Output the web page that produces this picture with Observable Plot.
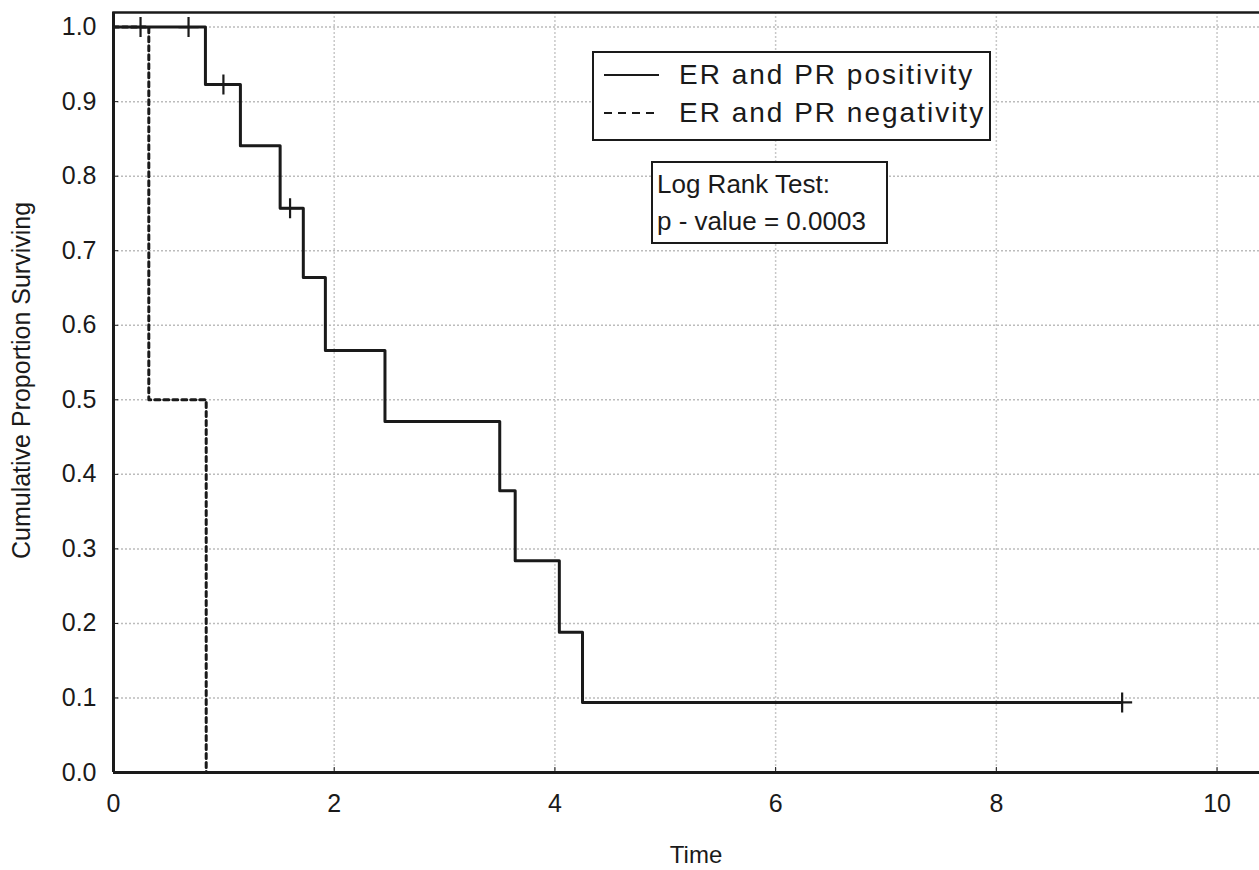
<!DOCTYPE html>
<html>
<head>
<meta charset="utf-8">
<script src="https://cdn.jsdelivr.net/npm/d3@7"></script>
<script src="https://cdn.jsdelivr.net/npm/@observablehq/plot@0.6"></script>
<style>
  html, body { margin: 0; padding: 0; background: #fff; }
  #wrap { position: relative; width: 1259px; height: 870px; overflow: hidden; font-family: "Liberation Sans", Arial, sans-serif; color: #1a1a1a; }
  #legend { position: absolute; left: 592px; top: 51px; width: 395px; height: 86px; border: 2px solid #1a1a1a; background: #fff; }
  .lrow { position: absolute; left: 10px; height: 34px; display: flex; align-items: center; font-size: 28px; letter-spacing: 2px; white-space: nowrap; }
  .lrow svg { margin-right: 20px; }
  #test { position: absolute; left: 651px; top: 161px; width: 229px; height: 79px; border: 2px solid #1a1a1a; background: #fff; font-size: 26px; line-height: 37px; padding-left: 4px; box-sizing: content-box; white-space: nowrap; }
  #test div:first-child { margin-top: 3px; }
</style>
</head>
<body>
<div id="wrap">
  <div id="chart"></div>
  <div id="legend"></div>
  <div id="test"></div>
</div>
<script>
// ---- data ----
const posTimes = [0, 0.833, 1.15, 1.51, 1.72, 1.92, 2.46, 3.50, 3.64, 4.04, 4.25, 9.12];
const posSurv  = [1.0, 0.923, 0.841, 0.757, 0.664, 0.566, 0.471, 0.378, 0.284, 0.188, 0.094, 0.094];
const negTimes = [0, 0.32, 0.84];
const negSurv  = [1.0, 0.5, 0.0];
const censorTimes = [0.245, 0.68, 0.996, 1.60, 9.14];
const censorSurv  = [1.0, 1.0, 0.923, 0.757, 0.094];
const xTicks = [0, 2, 4, 6, 8, 10];
const yTicks = [0, 0.1, 0.2, 0.3, 0.4, 0.5, 0.6, 0.7, 0.8, 0.9, 1.0];
const seriesNames = ["ER and PR positivity", "ER and PR negativity"];
const testLines = ["Log Rank Test:", "p - value = 0.0003"];
const xLabel = "Time";
const yLabel = "Cumulative Proportion Surviving";

const pos = posTimes.map((t, i) => ({t, s: posSurv[i]}));
const neg = negTimes.map((t, i) => ({t, s: negSurv[i]}));
const cens = censorTimes.map((t, i) => ({t, s: censorSurv[i]}));

const ink = "#1a1a1a";
const chart = Plot.plot({
  width: 1259,
  height: 870,
  marginLeft: 113,
  marginRight: -5,
  marginTop: 12,
  marginBottom: 98,
  style: {fontFamily: "'Liberation Sans', Arial, sans-serif", color: ink, background: "#fff"},
  x: {domain: [0, 10.43]},
  y: {domain: [0, 1.0196]},
  marks: [
    Plot.gridY(yTicks, {stroke: "#bcbcbc", strokeOpacity: 1, strokeWidth: 1.5, strokeDasharray: "2 2"}),
    Plot.gridX(xTicks, {stroke: "#c8c8c8", strokeOpacity: 1, strokeWidth: 1.5, strokeDasharray: "2 2"}),
    Plot.axisY(yTicks, {tickSize: -5, tickPadding: 22, tickFormat: d3.format(".1f"), fontSize: 25, label: null, stroke: ink}),
    Plot.axisX(xTicks, {tickSize: -5, tickPadding: 27, tickFormat: d3.format("d"), fontSize: 25, label: null, stroke: ink}),
    Plot.frame({anchor: "top", stroke: ink, strokeWidth: 2.5}),
    Plot.ruleY([0], {stroke: ink, strokeWidth: 3}),
    Plot.ruleX([0], {stroke: ink, strokeWidth: 3}),
    Plot.line(neg, {x: "t", y: "s", curve: "step-after", stroke: ink, strokeWidth: 3, strokeDasharray: "5 4"}),
    Plot.line(pos, {x: "t", y: "s", curve: "step-after", stroke: ink, strokeWidth: 3}),
    Plot.dot(cens, {x: "t", y: "s", symbol: "plus", r: 6.5, stroke: ink, strokeWidth: 2.2}),
    Plot.text([xLabel], {frameAnchor: "bottom", dx: 7, dy: 90, fontSize: 24, fill: ink}),
    Plot.text([yLabel], {frameAnchor: "left", textAnchor: "middle", rotate: -90, dx: -92, dy: -12, fontSize: 25, fill: ink})
  ]
});
document.getElementById("chart").appendChild(chart);

// legend (inside the plot area, as in the reference)
const legend = document.getElementById("legend");
seriesNames.forEach((name, i) => {
  const row = document.createElement("div");
  row.className = "lrow";
  row.style.top = (i === 0 ? 5 : 43) + "px";
  const dash = i === 0 ? "" : ' stroke-dasharray="8 6"';
  row.innerHTML = `<svg width="55" height="10"><line x1="0" y1="5" x2="55" y2="5" stroke="${ink}" stroke-width="2"${dash}/></svg><span>${name}</span>`;
  legend.appendChild(row);
});
document.getElementById("test").innerHTML = testLines.map(l => `<div>${l}</div>`).join("");
</script>
</body>
</html>
